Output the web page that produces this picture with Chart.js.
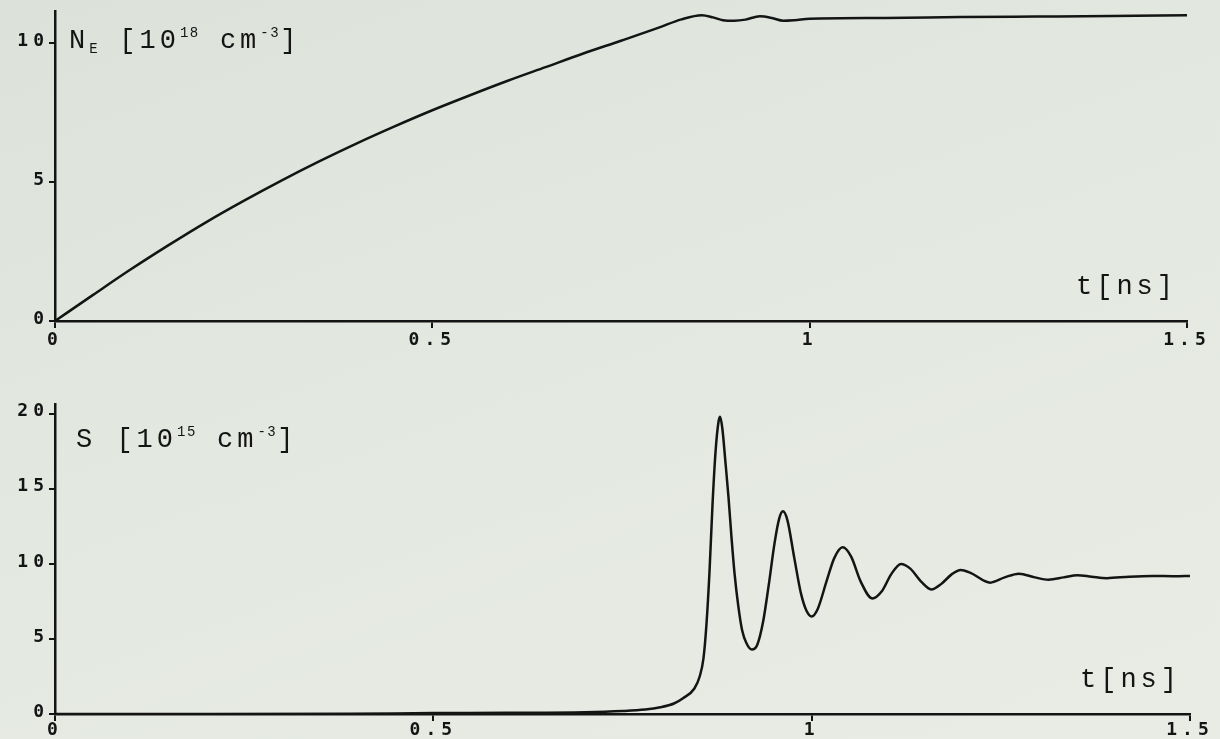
<!DOCTYPE html>
<html><head><meta charset="utf-8">
<script src="https://cdn.jsdelivr.net/npm/chart.js@4.4.1/dist/chart.umd.min.js"></script>
<style>
html,body{margin:0;padding:0;}
body{width:1220px;height:739px;overflow:hidden;position:relative;
 background:linear-gradient(160deg,#dce2da 0%,#e3e8e0 45%,#e9ece4 100%);}
canvas{position:absolute;left:0;}
#c1{top:0}
#c2{top:370px}
</style></head><body>
<canvas id="c1" width="1220" height="370"></canvas>
<canvas id="c2" width="1220" height="369"></canvas>
<script>
// ---- tick labels ----
const tTicks  = [0, 0.5, 1, 1.5];
const neTicks = [0, 5, 10];
const sTicks  = [0, 5, 10, 15, 20];

// ---- N_E [1e18 cm^-3] vs t [ns] ----
const neTime  = [0, 0.05, 0.1, 0.15, 0.2, 0.25, 0.3, 0.35, 0.4, 0.45,
                 0.5, 0.55, 0.6, 0.65, 0.7, 0.75, 0.8, 0.83, 0.857, 0.872,
                 0.885, 0.9, 0.915, 0.934, 0.95, 0.965, 0.98, 1.0, 1.1, 1.2,
                 1.3, 1.4, 1.5];
const neValue = [0, 0.93, 1.85, 2.72, 3.55, 4.32, 5.05, 5.74, 6.39, 7.0,
                 7.58, 8.12, 8.64, 9.13, 9.62, 10.08, 10.55, 10.85, 11.0, 10.92,
                 10.82, 10.8, 10.84, 10.96, 10.9, 10.8, 10.82, 10.87, 10.9, 10.93,
                 10.95, 10.97, 11.0];

// ---- S [1e15 cm^-3] vs t [ns] ----
const sTime  = [0, 0.2, 0.39, 0.5, 0.6, 0.7, 0.75, 0.78, 0.8, 0.818,
                0.83, 0.845, 0.852, 0.857, 0.861, 0.865, 0.869, 0.873, 0.877, 0.879,
                0.882, 0.886, 0.89, 0.894, 0.898, 0.903, 0.908, 0.914, 0.921, 0.928,
                0.936, 0.943, 0.951, 0.957, 0.962, 0.968, 0.977, 0.986, 0.993, 1.0,
                1.008, 1.02, 1.03, 1.041, 1.052, 1.065, 1.08, 1.093, 1.105, 1.118,
                1.13, 1.145, 1.158, 1.172, 1.185, 1.197, 1.21, 1.236, 1.255, 1.274,
                1.295, 1.313, 1.333, 1.351, 1.37, 1.39, 1.42, 1.45, 1.48, 1.5];
const sValue = [0, 0, 0.02, 0.06, 0.08, 0.12, 0.2, 0.3, 0.45, 0.7,
                1.05, 1.7, 2.5, 3.7, 6.0, 9.5, 14, 17.5, 19.5, 19.8,
                19.0, 16.8, 14.5, 11.8, 9.4, 7.2, 5.6, 4.7, 4.3, 4.6,
                6.2, 8.5, 11.4, 13.0, 13.5, 12.9, 10.4, 8.0, 6.9, 6.5,
                7.0, 8.9, 10.4, 11.1, 10.5, 8.8, 7.7, 8.2, 9.3, 10.0,
                9.7, 8.8, 8.3, 8.7, 9.3, 9.6, 9.4, 8.75, 9.1, 9.35,
                9.1, 8.95, 9.1, 9.25, 9.15, 9.05, 9.15, 9.2, 9.18, 9.2];

const INK = '#141414';
const TICK_FONT = {family: "'DejaVu Sans Mono', monospace", size: 18, weight: 'bold'};
const TITLE_FAMILY = "'Liberation Mono', 'Courier New', monospace";

function drawRich(ctx, x, y, parts) {
  ctx.save();
  ctx.fillStyle = INK;
  ctx.textBaseline = 'alphabetic';
  ctx.textAlign = 'left';
  for (const [txt, size, dy, ls] of parts) {
    ctx.font = size + 'px ' + TITLE_FAMILY;
    ctx.letterSpacing = ls + 'px';
    ctx.fillText(txt, x, y + dy);
    x += ctx.measureText(txt).width;
  }
  ctx.restore();
}

function makeChart(id, times, values, yTicks, yMax, padTop, padRight, xHeight, xPad, titleFn) {
  const data = times.map((t, i) => ({x: t, y: values[i]}));
  const plugin = {
    id: 'decor_' + id,
    beforeDraw(chart) { chart.ctx.letterSpacing = '5px'; },
    beforeDatasetsDraw(chart) { chart.ctx.letterSpacing = '0px'; },
    afterDraw(chart) { chart.ctx.letterSpacing = '0px'; titleFn(chart.ctx); }
  };
  return new Chart(document.getElementById(id), {
    type: 'line',
    data: {datasets: [{
      data,
      borderColor: INK,
      borderWidth: 2.5,
      pointRadius: 0,
      fill: false,
      cubicInterpolationMode: 'monotone'
    }]},
    options: {
      responsive: false,
      animation: false,
      events: [],
      layout: {padding: {top: padTop, right: padRight, left: 0, bottom: 0}},
      plugins: {legend: {display: false}, tooltip: {enabled: false}},
      scales: {
        x: {
          type: 'linear', min: 0, max: 1.5,
          afterBuildTicks: s => { s.ticks = tTicks.map(v => ({value: v})); },
          afterFit: s => { s.height = xHeight; },
          grid: {display: true, drawOnChartArea: false, drawTicks: true, tickLength: 7, color: INK, lineWidth: 2},
          border: {display: true, color: INK, width: 2.5},
          ticks: {color: INK, font: TICK_FONT, padding: xPad, maxRotation: 0, autoSkip: false,
                  callback: v => String(v)}
        },
        y: {
          type: 'linear', min: 0, max: yMax,
          afterBuildTicks: s => { s.ticks = yTicks.map(v => ({value: v})); },
          afterFit: s => { s.width = 55; },
          grid: {display: true, drawOnChartArea: false, drawTicks: true, tickLength: 6, color: INK, lineWidth: 2},
          border: {display: true, color: INK, width: 2.5},
          ticks: {color: INK, font: TICK_FONT, padding: 0, labelOffset: -2, autoSkip: false,
                  callback: v => String(v)}
        }
      }
    },
    plugins: [plugin]
  });
}

makeChart('c1', neTime, neValue, neTicks, 11.15, 11, 33, 49, 2, ctx => {
  drawRich(ctx, 69, 48, [
    ['N', 27, 0, 4], ['E', 14, 5, 1.5], [' [10', 27, 0, 4], ['18', 14, -11, 1.5],
    [' cm', 27, 0, 4], ['-3', 14, -11, 1.5], [']', 27, 0, 4]
  ]);
  drawRich(ctx, 1076, 294, [['t[ns]', 27, 0, 4]]);
});

makeChart('c2', sTime, sValue, sTicks, 20.65, 34, 30, 25, -1, ctx => {
  drawRich(ctx, 76, 77, [
    ['S', 27, 0, 4], [' [10', 27, 0, 4], ['15', 14, -11, 1.5],
    [' cm', 27, 0, 4], ['-3', 14, -11, 1.5], [']', 27, 0, 4]
  ]);
  drawRich(ctx, 1080, 317, [['t[ns]', 27, 0, 4]]);
});
</script>
</body></html>
